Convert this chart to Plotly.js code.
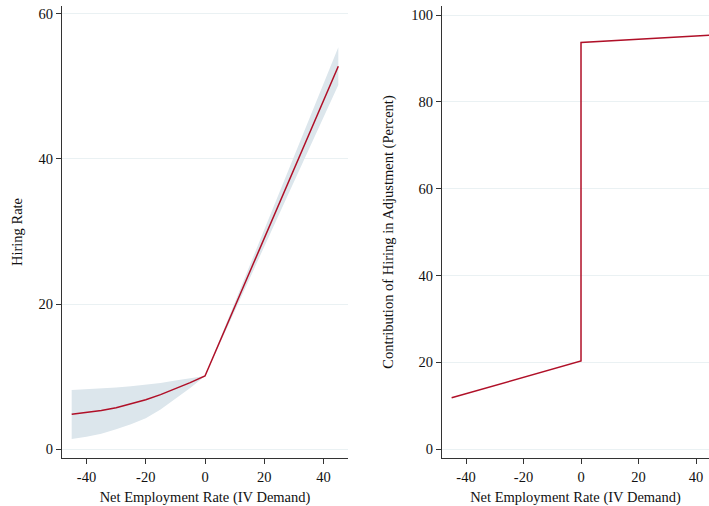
<!DOCTYPE html>
<html>
<head>
<meta charset="utf-8">
<script src="https://cdn.plot.ly/plotly-3.0.1.min.js"></script>
<style>html,body{margin:0;padding:0;background:#fff;}#chart{width:709px;height:506px;}</style>
</head>
<body>
<div id="chart"></div>
<script>
// Left panel: Hiring Rate vs Net Employment Rate (fit and confidence band)
const hireX     = [-45, -40, -35, -30, -25, -20, -15, -10, -5, 0, 15, 30, 45];
const hireY     = [4.78, 5.0, 5.3, 5.7, 6.2, 6.8, 7.5, 8.3, 9.15, 10.07, 24.3, 38.6, 52.8];
const hireUpper = [8.14, 8.23, 8.37, 8.5, 8.66, 8.85, 9.1, 9.45, 9.75, 10.07, 25.2, 40.3, 55.4];
const hireLower = [1.38, 1.70, 2.11, 2.71, 3.40, 4.23, 5.45, 6.9, 8.4, 10.07, 23.4, 36.8, 50.2];

// Right panel: Contribution of hiring in adjustment (percent)
const contribX = [-45, 0, 0, 45];
const contribY = [11.8, 20.3, 93.7, 95.4];

const xTicks = [-40, -20, 0, 20, 40];
const xTickText = ['-40', '-20', '0', '20', '40'];
const leftYTicks = [0, 20, 40, 60];
const rightYTicks = [0, 20, 40, 60, 80, 100];

const lineColor = '#b01028';
const bandColor = '#dce6ec';
const gridColor = '#eaf1f3';
const font = {family: 'Liberation Serif, Times New Roman, serif', size: 14.5, color: '#111'};

const bandX = hireX.concat(hireX.slice().reverse());
const bandY = hireUpper.concat(hireLower.slice().reverse());

const traces = [
  {x: bandX, y: bandY, type: 'scatter', mode: 'lines', fill: 'toself', fillcolor: bandColor,
   line: {width: 0, color: bandColor}, xaxis: 'x', yaxis: 'y', hoverinfo: 'skip'},
  {x: hireX, y: hireY, type: 'scatter', mode: 'lines', line: {color: lineColor, width: 1.5},
   xaxis: 'x', yaxis: 'y'},
  {x: contribX, y: contribY, type: 'scatter', mode: 'lines', line: {color: lineColor, width: 1.5},
   xaxis: 'x2', yaxis: 'y2'}
];

const axisCommon = {
  showline: true, linecolor: '#333', linewidth: 1.2, mirror: false,
  ticks: 'outside', ticklen: 5, tickcolor: '#333', tickwidth: 1,
  zeroline: false, tickfont: font
};

const layout = {
  width: 709, height: 506,
  margin: {l: 0, r: 0, t: 0, b: 0},
  paper_bgcolor: '#fff', plot_bgcolor: '#fff',
  showlegend: false, font: font,
  xaxis: Object.assign({}, axisCommon, {
    domain: [62/709, 348/709], range: [-48.27, 48.27], showgrid: false,
    tickvals: xTicks, ticktext: xTickText, anchor: 'y',
    title: {text: 'Net Employment Rate (IV Demand)', font: font, standoff: 12}
  }),
  yaxis: Object.assign({}, axisCommon, {
    domain: [48/506, 1 - 6/506], range: [-1.24, 61.1], showgrid: true, gridcolor: gridColor,
    tickvals: leftYTicks, anchor: 'x',
    title: {text: 'Hiring Rate', font: font, standoff: 12}
  }),
  xaxis2: Object.assign({}, axisCommon, {
    domain: [442/709, 1], range: [-48.35, 44.52], showgrid: false,
    tickvals: xTicks, ticktext: xTickText, anchor: 'y2',
    title: {text: 'Net Employment Rate (IV Demand)', font: font, standoff: 12}
  }),
  yaxis2: Object.assign({}, axisCommon, {
    domain: [48/506, 1 - 6/506], range: [-2.07, 102.1], showgrid: true, gridcolor: gridColor,
    tickvals: rightYTicks, anchor: 'x2',
    title: {text: 'Contribution of Hiring in Adjustment (Percent)', font: font, standoff: 14}
  })
};

Plotly.newPlot('chart', traces, layout, {displayModeBar: false, staticPlot: true});
</script>
</body>
</html>
